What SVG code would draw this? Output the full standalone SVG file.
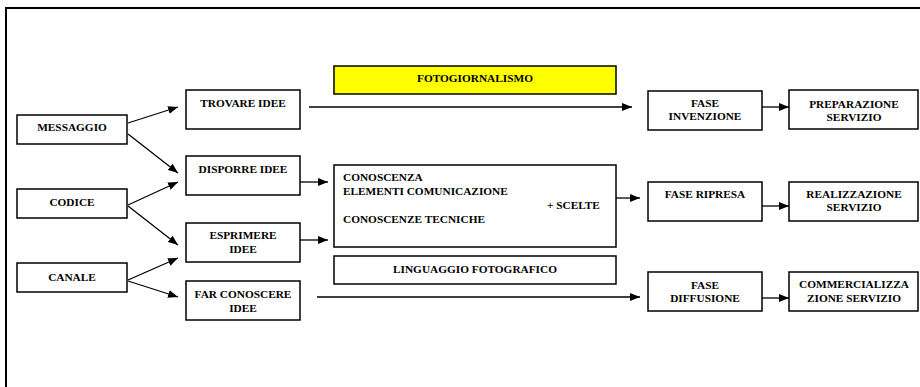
<svg xmlns="http://www.w3.org/2000/svg" width="920" height="387" viewBox="0 0 920 387">
<style>
.box{fill:#fff;stroke:#000;stroke-width:1.5}
.hl{fill:#ffff00;stroke:#000;stroke-width:1.5}
.t{font-family:"Liberation Serif","Times New Roman",serif;font-weight:bold;font-size:11.3px;fill:#000}
.c{text-anchor:middle}
.ln{stroke:#000;stroke-width:1.3;fill:none;marker-end:url(#ah)}
</style>
<defs>
<marker id="ah" markerUnits="userSpaceOnUse" markerWidth="10" markerHeight="8" refX="10" refY="4" orient="auto">
<path d="M0,0 L10,4 L0,8 z" fill="#000"/>
</marker>
</defs>
<rect width="920" height="387" fill="#fff"/>
<path d="M6,387 V8 H920" fill="none" stroke="#000" stroke-width="2"/>

<g id="messaggio"><rect class="box" x="17" y="115" width="110" height="29"/><text class="t c" x="72" y="131">MESSAGGIO</text></g>
<g id="codice"><rect class="box" x="17" y="189" width="110" height="29"/><text class="t c" x="72" y="206">CODICE</text></g>
<g id="canale"><rect class="box" x="17" y="263" width="110" height="29"/><text class="t c" x="72" y="281">CANALE</text></g>

<g id="trovare"><rect class="box" x="186" y="90" width="114" height="39"/><text class="t c" x="243" y="107">TROVARE IDEE</text></g>
<g id="disporre"><rect class="box" x="186" y="156" width="114" height="39"/><text class="t c" x="243" y="173">DISPORRE IDEE</text></g>
<g id="esprimere"><rect class="box" x="186" y="223" width="114" height="39"/><text class="t c" x="243" y="239">ESPRIMERE</text><text class="t c" x="243" y="253">IDEE</text></g>
<g id="farconoscere"><rect class="box" x="186" y="281" width="114" height="39"/><text class="t c" x="243" y="298">FAR CONOSCERE</text><text class="t c" x="243" y="312">IDEE</text></g>

<g id="fotogiornalismo"><rect class="hl" x="334" y="66" width="282" height="28"/><text class="t c" x="475" y="82">FOTOGIORNALISMO</text></g>
<g id="conoscenza"><rect class="box" x="334" y="165" width="282" height="82"/>
<text class="t" x="343" y="181">CONOSCENZA</text>
<text class="t" x="343" y="195">ELEMENTI COMUNICAZIONE</text>
<text class="t" x="547" y="209">+ SCELTE</text>
<text class="t" x="343" y="223">CONOSCENZE TECNICHE</text></g>
<g id="linguaggio"><rect class="box" x="334" y="256" width="282" height="28"/><text class="t c" x="475" y="273">LINGUAGGIO FOTOGRAFICO</text></g>

<g id="faseinvenzione"><rect class="box" x="648" y="91" width="114" height="39"/><text class="t c" x="705" y="106.5">FASE</text><text class="t c" x="705" y="120">INVENZIONE</text></g>
<g id="faseripresa"><rect class="box" x="648" y="182" width="114" height="39"/><text class="t c" x="705" y="198">FASE RIPRESA</text></g>
<g id="fasediffusione"><rect class="box" x="648" y="272" width="114" height="39"/><text class="t c" x="705" y="289">FASE</text><text class="t c" x="705" y="302">DIFFUSIONE</text></g>

<g id="preparazione"><rect class="box" x="789" y="90" width="129" height="39"/><text class="t c" x="854" y="107.5">PREPARAZIONE</text><text class="t c" x="854" y="121">SERVIZIO</text></g>
<g id="realizzazione"><rect class="box" x="789" y="182" width="129" height="39"/><text class="t c" x="854" y="198">REALIZZAZIONE</text><text class="t c" x="854" y="211">SERVIZIO</text></g>
<g id="commercializzazione"><rect class="box" x="789" y="272" width="129" height="39"/><text class="t c" x="854" y="288">COMMERCIALIZZA</text><text class="t c" x="854" y="302">ZIONE SERVIZIO</text></g>

<g id="connectors">
<line class="ln" x1="128" y1="123" x2="178" y2="107"/>
<line class="ln" x1="128" y1="134" x2="178" y2="173"/>
<line class="ln" x1="128" y1="205" x2="178" y2="182"/>
<line class="ln" x1="128" y1="206" x2="178" y2="245"/>
<line class="ln" x1="128" y1="280" x2="178" y2="258"/>
<line class="ln" x1="128" y1="281" x2="178" y2="297"/>
<line class="ln" x1="300" y1="182" x2="328" y2="182"/>
<line class="ln" x1="300" y1="240" x2="328" y2="240"/>
<line class="ln" x1="309" y1="107" x2="632" y2="107"/>
<line class="ln" x1="616" y1="198" x2="640" y2="198"/>
<line class="ln" x1="317" y1="297" x2="640" y2="297"/>
<line class="ln" x1="762" y1="107" x2="789" y2="107"/>
<line class="ln" x1="762" y1="206" x2="789" y2="206"/>
<line class="ln" x1="762" y1="298" x2="789" y2="298"/>
</g>
</svg>
